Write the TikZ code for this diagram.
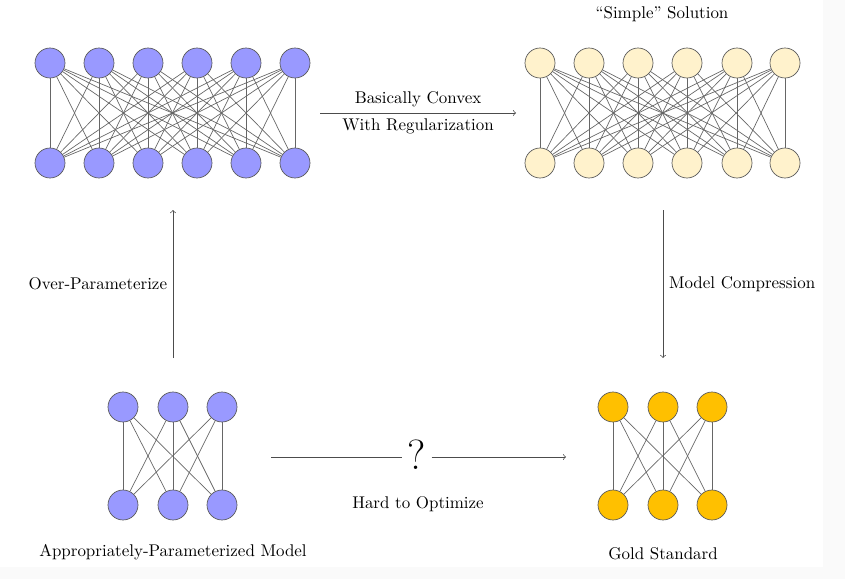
\documentclass[tikz,border=0pt]{standalone}
\usetikzlibrary{arrows,calc}
\usepackage{amsmath,amssymb}

\definecolor{netblue}{HTML}{9999FF}
\definecolor{paleyellow}{HTML}{FFF2CC}
\definecolor{goldfill}{HTML}{FFC000}

\tikzset{
  neuron/.style={circle,draw=black!65,inner sep=0pt,minimum size=17.7pt},
  wire/.style={black!60,thin},
  flow/.style={black!70,thin},
}

\begin{document}
\begin{tikzpicture}[x=0.59pt,y=-0.59pt]
      %背景
        \fill[black!2](0,0)rectangle(845,579);
        \fill[white](0,0)rectangle(823,567);
        \useasboundingbox(0,0)rectangle(845,579);

      %左上：大网络
        \foreach \i/\x in {1/50,2/99,3/148,4/197,5/246,6/295}{
          \node[neuron,fill=netblue](p\i) at (\x,63){};
          \node[neuron,fill=netblue](q\i) at (\x,163){};
        }
        \foreach \i in {1,...,6}
          \foreach \j in {1,...,6}
            \draw[wire](p\i)--(q\j);

      %右上：简单解
        \foreach \i/\x in {1/540,2/589,3/638,4/687,5/737,6/785}{
          \node[neuron,fill=paleyellow](s\i) at (\x,63){};
          \node[neuron,fill=paleyellow](t\i) at (\x,163){};
        }
        \foreach \i in {1,...,6}
          \foreach \j in {1,...,6}
            \draw[wire](s\i)--(t\j);
        \node(simple) at (662,14){``Simple'' Solution};

      %左下：小网络
        \foreach \i/\x in {1/123,2/173,3/222}{
          \node[neuron,fill=netblue](a\i) at (\x,407){};
          \node[neuron,fill=netblue](b\i) at (\x,505){};
        }
        \foreach \i in {1,...,3}
          \foreach \j in {1,...,3}
            \draw[wire](a\i)--(b\j);
        \node(approx) at (173,552){Appropriately-Parameterized Model};

      %右下：金标准
        \foreach \i/\x in {1/613,2/663,3/712}{
          \node[neuron,fill=goldfill](g\i) at (\x,407){};
          \node[neuron,fill=goldfill](h\i) at (\x,505){};
        }
        \foreach \i in {1,...,3}
          \foreach \j in {1,...,3}
            \draw[wire](g\i)--(h\j);
        \node(gold) at (663,554){Gold Standard};

      %箭头
        \coordinate(cvxA) at (320,113);
        \coordinate(cvxB) at (516,113);
        \draw[flow,->](cvxA)--(cvxB)
          node[midway,above=0pt,text=black]{Basically Convex}
          node[midway,below=0pt,text=black]{With Regularization};

        \coordinate(overA) at (173,358);
        \coordinate(overB) at (173,210);
        \draw[flow,->](overA)--(overB);
        \node[left=0pt](overlbl) at ($(overA)!0.5!(overB)$){Over-Parameterize};

        \coordinate(compA) at (663,210);
        \coordinate(compB) at (663,358);
        \draw[flow,->](compA)--(compB);
        \node[right=0pt](complbl) at ($(compA)!0.5!(compB)$){Model Compression};

        \coordinate(hardA) at (271,457);
        \coordinate(hardB) at (566,457);
        \node[inner sep=3pt](qmark) at (417,455){\Huge ?};
        \draw[flow](hardA)--(qmark.west|-hardA);
        \draw[flow,->](qmark.east|-hardB)--(hardB);
        \node(hardlbl) at (418,504){Hard to Optimize};
      \end{tikzpicture}
\end{document}
